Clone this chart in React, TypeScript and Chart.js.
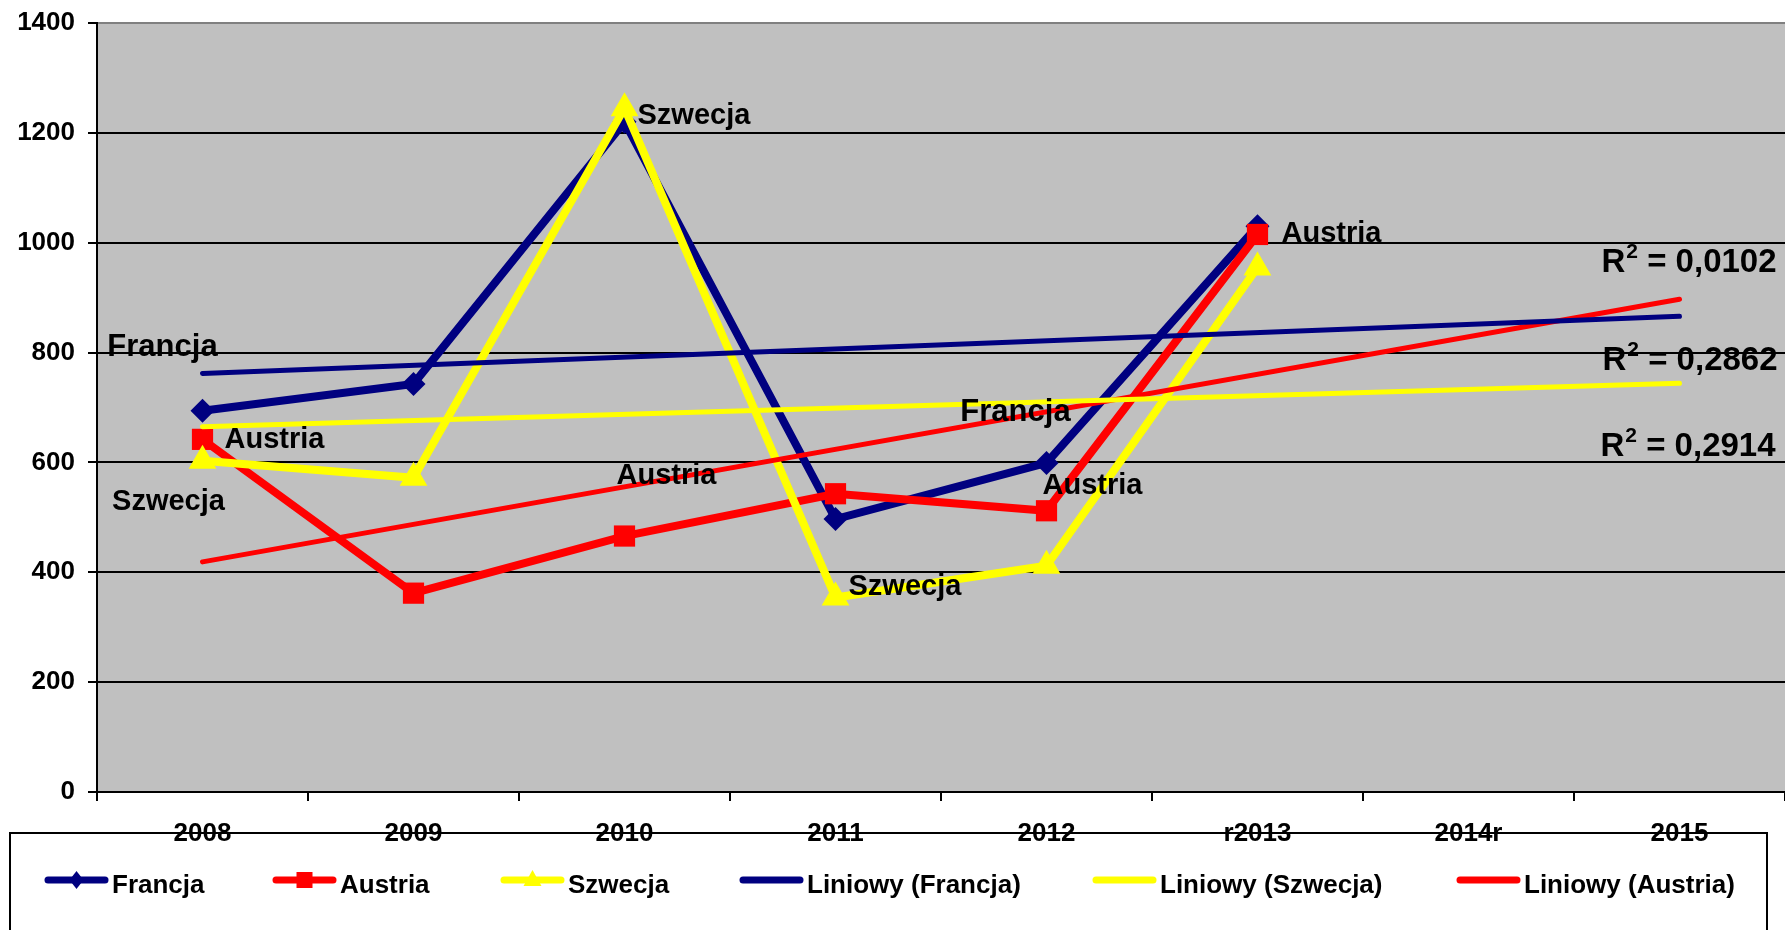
import React, { useEffect, useRef } from 'react';
import { Chart, registerables } from 'chart.js';

Chart.register(...registerables);

// ---- data ----
const categories = ['2008', '2009', '2010', '2011', '2012', 'r2013', '2014r', '2015'];
const francja = [694, 743, 1220, 497, 599, 1030];
const austria = [642, 362, 466, 543, 512, 1015];
const szwecja = [603, 572, 1245, 354, 412, 955];
// linear trend values at first (2008) and last (2015) category
const trendFrancja = [762, 866];
const trendAustria = [419, 897];
const trendSzwecja = [665, 744];
const r2Texts = ['0,0102', '0,2862', '0,2914'];
const seriesNames = ['Francja', 'Austria', 'Szwecja'];
const trendNames = ['Liniowy (Francja)', 'Liniowy (Szwecja)', 'Liniowy (Austria)'];

const NAVY = '#000080';
const RED = '#FF0000';
const YELLOW = '#FFFF00';
const FONT = "'Liberation Sans', Arial, Helvetica, sans-serif";

const trendData = (t: number[]) =>
  categories.map((_, i) => (i === 0 ? t[0] : i === categories.length - 1 ? t[1] : null));

// data label placement (dataset index, point index, offset from point)
const labelPlacements = [
  { ds: 0, i: 0, dx: -40, dy: -63, align: 'center' },
  { ds: 1, i: 0, dx: 22, dy: 1, align: 'left' },
  { ds: 2, i: 0, dx: -34, dy: 41, align: 'center' },
  { ds: 1, i: 2, dx: 42, dy: -60, align: 'center' },
  { ds: 2, i: 2, dx: 13, dy: 8, align: 'left' },
  { ds: 2, i: 3, dx: 13, dy: -11, align: 'left' },
  { ds: 0, i: 4, dx: -31, dy: -51, align: 'center' },
  { ds: 1, i: 4, dx: -4, dy: -25, align: 'left' },
  { ds: 1, i: 5, dx: 24, dy: 0, align: 'left' },
];

// R² label anchors: [left x offset from last category center, baseline value]
const r2Anchors = [
  { dx: -78, v: 946 },
  { dx: -77, v: 769 },
  { dx: -79, v: 611 },
];

function drawMarker(ctx: CanvasRenderingContext2D, style: string, x: number, y: number, color: string) {
  ctx.save();
  ctx.fillStyle = color;
  ctx.beginPath();
  if (style === 'diamond') {
    ctx.moveTo(x, y - 9);
    ctx.lineTo(x + 7, y);
    ctx.lineTo(x, y + 9);
    ctx.lineTo(x - 7, y);
    ctx.closePath();
  } else if (style === 'square') {
    ctx.rect(x - 8, y - 8, 16, 16);
  } else if (style === 'triangle') {
    ctx.moveTo(x, y - 10);
    ctx.lineTo(x + 9, y + 6);
    ctx.lineTo(x - 9, y + 6);
    ctx.closePath();
  }
  ctx.fill();
  ctx.restore();
}

const plotBgPlugin = {
  id: 'plotBg',
  beforeDraw(chart: any) {
    const { ctx, chartArea } = chart;
    ctx.save();
    ctx.fillStyle = '#C0C0C0';
    ctx.fillRect(chartArea.left, chartArea.top, chartArea.right - chartArea.left, chartArea.bottom - chartArea.top);
    ctx.restore();
  },
};

const overlayPlugin = {
  id: 'overlay',
  afterDraw(chart: any) {
    const { ctx } = chart;
    const xs = chart.scales.x;
    const ys = chart.scales.y;
    ctx.save();
    // data labels
    ctx.fillStyle = '#000';
    ctx.textBaseline = 'middle';
    labelPlacements.forEach((p) => {
      const pt = chart.getDatasetMeta(p.ds).data[p.i];
      if (!pt) return;
      ctx.font = `bold ${p.ds === 0 ? 31 : 29}px ${FONT}`;
      ctx.textAlign = p.align;
      ctx.fillText(seriesNames[p.ds], pt.x + p.dx, pt.y + p.dy);
    });

    // R² labels
    ctx.textAlign = 'left';
    ctx.textBaseline = 'alphabetic';
    const lastX = xs.getPixelForValue(categories.length - 1);
    r2Texts.forEach((t, k) => {
      const a = r2Anchors[k];
      let x = lastX + a.dx;
      const y = ys.getPixelForValue(a.v);
      ctx.font = `bold 33px ${FONT}`;
      ctx.fillText('R', x, y);
      x += ctx.measureText('R').width + 1;
      ctx.font = `bold 21px ${FONT}`;
      ctx.fillText('2', x, y - 14);
      x += ctx.measureText('2').width;
      ctx.font = `bold 33px ${FONT}`;
      ctx.fillText(' = ' + t, x, y);
    });

    // legend box
    ctx.strokeStyle = '#000';
    ctx.lineWidth = 2;
    ctx.strokeRect(10, 833, 1757, 140);

    // legend items
    const items = [
      { name: seriesNames[0], color: NAVY, marker: 'diamond', x: 45 },
      { name: seriesNames[1], color: RED, marker: 'square', x: 273 },
      { name: seriesNames[2], color: YELLOW, marker: 'triangle', x: 501 },
      { name: trendNames[0], color: NAVY, marker: '', x: 740 },
      { name: trendNames[1], color: YELLOW, marker: '', x: 1093 },
      { name: trendNames[2], color: RED, marker: '', x: 1457 },
    ];
    const ly = 880;
    items.forEach((it) => {
      ctx.strokeStyle = it.color;
      ctx.lineWidth = 7;
      ctx.lineCap = 'round';
      ctx.beginPath();
      ctx.moveTo(it.x + 3, ly);
      ctx.lineTo(it.x + 60, ly);
      ctx.stroke();
      if (it.marker) drawMarker(ctx, it.marker, it.x + 31.5, ly, it.color);
      ctx.fillStyle = '#000';
      ctx.font = `bold 26px ${FONT}`;
      ctx.textAlign = 'left';
      ctx.textBaseline = 'alphabetic';
      ctx.fillText(it.name, it.x + 67, 893);
    });
    ctx.restore();
  },
};

export default function App() {
  const ref = useRef<HTMLCanvasElement | null>(null);

  useEffect(() => {
    if (!ref.current) return;
    const chart = new Chart(ref.current, {
      type: 'line',
      data: {
        labels: categories,
        datasets: [
          {
            label: seriesNames[0],
            data: francja,
            borderColor: NAVY,
            backgroundColor: NAVY,
            borderWidth: 8,
            pointStyle: 'rectRot',
            pointRadius: 12,
            pointBorderWidth: 0,
            order: 3,
          },
          {
            label: seriesNames[1],
            data: austria,
            borderColor: RED,
            backgroundColor: RED,
            borderWidth: 8,
            pointStyle: 'rect',
            pointRadius: 15,
            pointBorderWidth: 0,
            order: 2,
          },
          {
            label: seriesNames[2],
            data: szwecja,
            borderColor: YELLOW,
            backgroundColor: YELLOW,
            borderWidth: 8,
            pointStyle: 'triangle',
            pointRadius: 16,
            pointBorderWidth: 0,
            order: 1,
          },
          {
            label: trendNames[0],
            data: trendData(trendFrancja),
            borderColor: NAVY,
            borderWidth: 5,
            pointRadius: 0,
            spanGaps: true,
            borderCapStyle: 'round',
            order: 0,
          },
          {
            label: trendNames[1],
            data: trendData(trendSzwecja),
            borderColor: YELLOW,
            borderWidth: 5,
            pointRadius: 0,
            spanGaps: true,
            borderCapStyle: 'round',
            order: 0,
          },
          {
            label: trendNames[2],
            data: trendData(trendAustria),
            borderColor: RED,
            borderWidth: 5,
            pointRadius: 0,
            spanGaps: true,
            borderCapStyle: 'round',
            order: 0,
          },
        ],
      },
      options: {
        animation: false,
        responsive: false,
        devicePixelRatio: 1,
        layout: { autoPadding: false, padding: { top: 23, left: 0, right: 0, bottom: 0 } },
        plugins: {
          legend: { display: false },
          tooltip: { enabled: false },
          title: { display: false },
        },
        scales: {
          x: {
            type: 'category',
            offset: true,
            grid: {
              display: true,
              drawOnChartArea: false,
              drawTicks: true,
              tickLength: 9,
              offset: true,
              color: '#000',
              lineWidth: 2,
            },
            border: { display: true, color: '#000', width: 2 },
            ticks: {
              color: '#000',
              font: { family: FONT, size: 26, weight: 'bold' },
              padding: 17,
              maxRotation: 0,
              autoSkip: false,
            },
            afterFit: (scale: any) => {
              scale.height = 138;
              scale.paddingLeft = 0;
              scale.paddingRight = 0;
            },
          },
          y: {
            min: 0,
            max: 1400,
            ticks: {
              stepSize: 200,
              color: '#000',
              font: { family: FONT, size: 26, weight: 'bold' },
              padding: 13,
              callback: (v: any) => String(v),
            },
            grid: {
              color: (c: any) => (c.tick && c.tick.value === 1400 ? '#808080' : '#000'),
              lineWidth: 2,
              tickLength: 9,
              tickColor: '#000',
              tickWidth: 2,
            },
            border: { display: true, color: '#000', width: 2 },
            afterFit: (scale: any) => {
              scale.width = 97;
              scale.paddingTop = 0;
              scale.paddingBottom = 0;
            },
          },
        },
      },
      plugins: [plotBgPlugin, overlayPlugin],
    } as any);
    return () => chart.destroy();
  }, []);

  return (
    <div style={{ position: 'absolute', left: 0, top: 0, width: 1785, height: 930, background: '#fff' }}>
      <canvas ref={ref} width={1785} height={930} style={{ width: 1785, height: 930, display: 'block' }} />
    </div>
  );
}
